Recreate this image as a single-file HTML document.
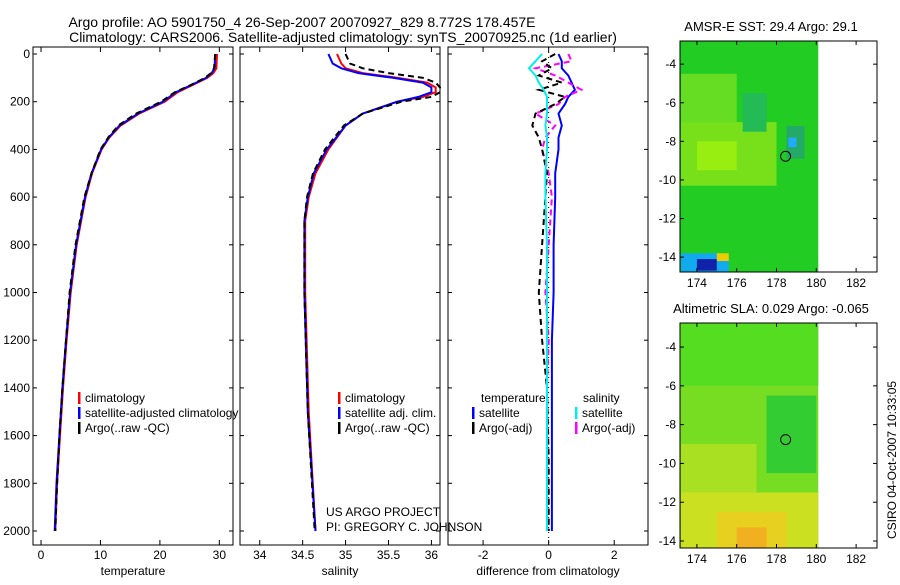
<!DOCTYPE html>
<html><head><meta charset="utf-8"><style>
body{margin:0;background:#fff}
svg{font-family:"Liberation Sans",sans-serif;font-size:12px}
</style></head><body>
<svg id="c" width="900" height="580" viewBox="0 0 900 580"></svg>
<script>
// ---------- data ----------
const depthT=[0,60,80,100,130,160,200,250,300,350,400,500,600,800,1000,1200,1400,1600,1800,2000];
const tempClim=[29.6,29.5,29.0,28.0,25.5,23.0,20.8,16.5,13.4,11.5,10.2,8.6,7.5,6.0,5.0,4.3,3.7,3.2,2.7,2.4];
const tempSat=[29.3,29.2,28.7,27.8,25.3,22.7,20.5,16.3,13.2,11.4,10.1,8.5,7.4,5.9,4.9,4.2,3.6,3.1,2.6,2.3];
const tempArgo=[29.3,29.1,28.6,27.6,25.2,22.5,20.2,16.0,13.0,11.3,10.0,8.5,7.3,5.8,4.8,4.2,3.6,3.1,2.7,2.4];
const depthS=[0,40,60,80,100,120,140,160,180,200,250,300,400,500,600,700,1000,1500,2000];
const salClim=[34.9,34.95,35.0,35.2,35.6,35.95,36.05,36.05,35.9,35.6,35.2,35.0,34.8,34.65,34.57,34.53,34.53,34.57,34.65];
const salSat=[34.8,34.85,34.95,35.15,35.55,35.9,36.0,36.0,35.85,35.6,35.2,35.0,34.78,34.63,34.56,34.52,34.52,34.56,34.65];
const salArgo=[35.0,35.05,35.2,35.5,35.9,36.05,36.1,36.1,36.0,35.65,35.2,34.98,34.76,34.62,34.55,34.52,34.52,34.56,34.64];
const depthD=[0,30,60,90,120,150,180,210,250,300,350,400,500,600,800,1000,1200,1400,1700,2000];
const dTempSat=[0.3,0.4,0.4,0.6,0.7,0.8,0.6,0.5,0.3,0.4,0.3,0.3,0.2,0.2,0.15,0.15,0.1,0.1,0.1,0.1];
const dSalSat=[-0.2,-0.4,-0.6,-0.4,-0.3,-0.15,-0.05,-0.05,-0.05,-0.1,-0.05,-0.05,-0.1,-0.1,-0.05,-0.05,-0.05,-0.05,-0.05,-0.05];
const dTempArgo=[0.2,-0.2,0.1,-0.3,0.4,-0.3,0.5,0.2,-0.4,-0.5,-0.3,-0.2,-0.05,-0.1,-0.2,-0.3,-0.2,-0.05,0,0];
const dSalArgo=[0.6,0.7,-0.4,0.2,0.6,1.0,0.5,0.3,-0.4,0.2,-0.1,-0.2,0,0.1,0,-0.1,0,-0.05,-0.05,0];
const mapXTicks=[174,176,178,180,182];
const mapYTicks=[-4,-6,-8,-10,-12,-14];
const depthTicks=[0,200,400,600,800,1000,1200,1400,1600,1800,2000];

// ---------- helpers ----------
const svg=document.getElementById('c');const NS='http://www.w3.org/2000/svg';
function mk(tag,at,txt,parent){const e=document.createElementNS(NS,tag);for(const k in at)e.setAttribute(k,at[k]);if(txt!==undefined)e.textContent=txt;(parent||svg).appendChild(e);return e;}
const dy=d=>54+d*0.2385;
function panel(x0,x1,name,xmin,xmax,xticks,xlabel,showY){
  const sx=v=>x0+(v-xmin)/(xmax-xmin)*(x1-x0);
  const g=mk('g',{});
  
  
  const r=mk('rect',{x:x0,y:47,width:x1-x0,height:498,fill:'#fff',stroke:'#000','stroke-width':1},undefined,g);
  
  xticks.forEach(t=>{const x=sx(t);mk('line',{x1:x,x2:x,y1:545,y2:540,stroke:'#000'},undefined,g);mk('line',{x1:x,x2:x,y1:47,y2:52,stroke:'#000'},undefined,g);
    const tl=mk('text',{x:x,y:559,'text-anchor':'middle'},String(t),g);});
  depthTicks.forEach(d=>{const y=dy(d);mk('line',{x1:x0,x2:x0+4,y1:y,y2:y,stroke:'#000'},undefined,g);mk('line',{x1:x1,x2:x1-4,y1:y,y2:y,stroke:'#000'},undefined,g);
    if(showY){const tl=mk('text',{x:x0-3,y:y+4,'text-anchor':'end'},String(d),g);}});
  const xl=mk('text',{x:(x0+x1)/2,y:575,'text-anchor':'middle'},xlabel,g);
  
  return sx;
}
function line(sx,depths,vals,color,w,dash,name){
  const p=vals.map((v,i)=>(i?'L':'M')+sx(v).toFixed(1)+','+dy(depths[i]).toFixed(1)).join('');
  const e=mk('path',{d:p,fill:'none',stroke:color,'stroke-width':w,'stroke-dasharray':dash||'none'});
  
}
function legend(x,y,color,txt,name){
  const g=mk('g',{});
  mk('rect',{x:x,y:y-10,width:2.5,height:12,fill:color},undefined,g);
  mk('text',{x:x+7,y:y},txt,g);
}

// titles
let t=mk('text',{x:302,y:27,'text-anchor':'middle','font-size':14},'Argo profile: AO 5901750_4 26-Sep-2007 20070927_829 8.772S 178.457E');

t=mk('text',{x:343,y:42,'text-anchor':'middle','font-size':14},'Climatology: CARS2006. Satellite-adjusted climatology: synTS_20070925.nc (1d earlier)');


// temperature panel
const sxT=panel(33,233,'temperature-panel',-1.35,32.3,[0,10,20,30],'temperature',true);
line(sxT,depthT,tempClim,'#f00',2,null,'temp-climatology-line');
line(sxT,depthT,tempSat,'#00f',2,null,'temp-satellite-line');
line(sxT,depthT,tempArgo,'#000',2,'6,4','temp-argo-line');
legend(78,402,'#f00','climatology','legend-climatology');
legend(78,417,'#00f','satellite-adjusted climatology','legend-satellite');
legend(78,432,'#000','Argo(..raw -QC)','legend-argo');

// salinity panel
const sxS=panel(240,440,'salinity-panel',33.77,36.1,[34,34.5,35,35.5,36],'salinity',false);
line(sxS,depthS,salClim,'#f00',2,null,'sal-climatology-line');
line(sxS,depthS,salSat,'#00f',2,null,'sal-satellite-line');
line(sxS,depthS,salArgo,'#000',2,'6,4','sal-argo-line');
legend(338,402,'#f00','climatology','legend-sal-climatology');
legend(338,417,'#00f','satellite adj. clim.','legend-sal-satellite');
legend(338,432,'#000','Argo(..raw -QC)','legend-sal-argo');

// difference panel
const sxD=panel(448,648,'difference-panel',-3.07,3.03,[-2,0,2],'difference from climatology',false);
mk('line',{x1:sxD(0),x2:sxD(0),y1:47,y2:545,stroke:'#000','stroke-dasharray':'1,4'});
line(sxD,depthD,dTempSat,'#00f',2,null,'diff-temp-satellite-line');
line(sxD,depthD,dSalArgo,'#f0f',2,'6,4','diff-sal-argo-line');
line(sxD,depthD,dTempArgo,'#000',2,'6,4','diff-temp-argo-line');
line(sxD,depthD,dSalSat,'#0ee',2,null,'diff-sal-satellite-line');
t=mk('text',{x:481,y:402},'temperature');
t=mk('text',{x:583,y:402},'salinity');
legend(472,417,'#00f','satellite','legend-diff-temp-sat');
legend(472,432,'#000','Argo(-adj)','legend-diff-temp-argo');
legend(575,417,'#0ee','satellite','legend-diff-sal-sat');
legend(575,432,'#f0f','Argo(-adj)','legend-diff-sal-argo');

t=mk('text',{x:326,y:516},'US ARGO PROJECT');
t=mk('text',{x:326,y:531},'PI: GREGORY C. JOHNSON');

// maps
function map(y0,y1,ymin,ymax,name,title,fill,patches){
  const x0=680,x1=877,xmin=173.15,xmax=183.05;
  const sx=v=>x0+(v-xmin)/(xmax-xmin)*(x1-x0);
  const sy=v=>y0+(ymax-v)/(ymax-ymin)*(y1-y0);
  const g=mk('g',{});
  const f=mk('rect',{x:x0,y:y0,width:sx(180.1)-x0,height:y1-y0,fill:fill},undefined,g);
  
  patches.forEach(p=>mk('rect',{x:sx(p[0]),y:sy(p[1]),width:sx(p[2])-sx(p[0]),height:sy(p[3])-sy(p[1]),fill:p[4]},undefined,g));
  mk('rect',{x:x0,y:y0,width:x1-x0,height:y1-y0,fill:'none',stroke:'#000'},undefined,g);
  mapXTicks.forEach(v=>{mk('line',{x1:sx(v),x2:sx(v),y1:y1,y2:y1-4,stroke:'#000'},undefined,g);mk('line',{x1:sx(v),x2:sx(v),y1:y0,y2:y0+4,stroke:'#000'},undefined,g);
    mk('text',{x:sx(v),y:y1+15,'text-anchor':'middle'},String(v),g);});
  mapYTicks.forEach(v=>{mk('line',{x1:x0,x2:x0+4,y1:sy(v),y2:sy(v),stroke:'#000'},undefined,g);mk('line',{x1:x1,x2:x1-4,y1:sy(v),y2:sy(v),stroke:'#000'},undefined,g);
    mk('text',{x:x0-4,y:sy(v)+4,'text-anchor':'end'},String(v),g);});
  const c=mk('circle',{cx:sx(178.457),cy:sy(-8.772),r:5,fill:'none',stroke:'#000'},undefined,g);
  
  const tt=mk('text',{x:771,y:y0-10,'text-anchor':'middle','font-size':13},title,g);
  
}
map(41,272,-14.77,-2.8,'sst-map','AMSR-E SST: 29.4  Argo: 29.1','#22cc22',[
 [173.2,-4.5,176,-7,'#66dd22'],[173.2,-7,178,-10.3,'#77e01a'],[174,-8,176,-9.5,'#99ee11'],
 [176.3,-5.5,177.5,-7.5,'#22bb55'],[178.5,-7.2,179.4,-8.9,'#22aa66'],[178.6,-7.8,179,-8.3,'#22aaff'],
 [173.2,-13.8,175.6,-14.77,'#11aaee'],[174,-14.1,175,-14.7,'#1122aa'],[175,-13.8,175.6,-14.2,'#eecc00']]);
map(323,548,-14.36,-2.76,'sla-map','Altimetric SLA: 0.029  Argo: -0.065','#77dd22',[
 [173.2,-2.76,180.1,-6,'#55dd22'],[177.5,-6.5,180,-10.5,'#33cc33'],[173.2,-9,177,-12,'#aae022'],
 [173.2,-11.5,180.1,-14.36,'#cce022'],[175,-12.5,178.5,-14.36,'#e8d020'],[176,-13.3,177.5,-14.36,'#f0b020']]);

t=mk('text',{x:0,y:0,'text-anchor':'middle',transform:'translate(896,460) rotate(-90)'},'CSIRO 04-Oct-2007 10:33:05');

</script>
</body></html>
